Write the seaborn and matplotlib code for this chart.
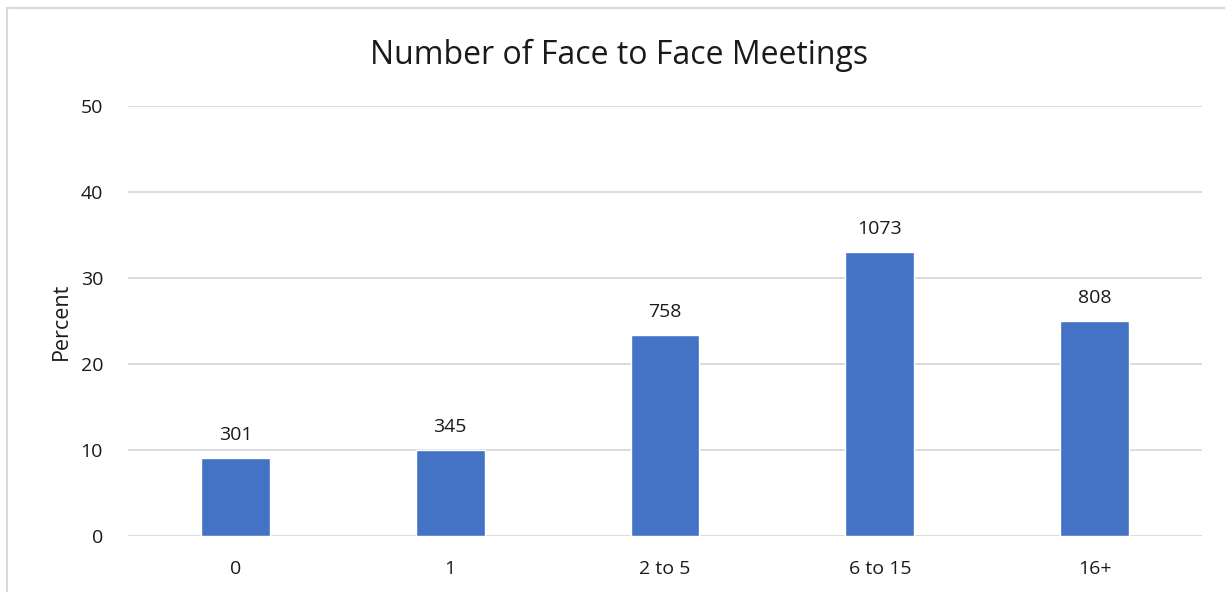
import matplotlib
matplotlib.use("Agg")
import pandas as pd
import seaborn as sns
import matplotlib.pyplot as plt
from matplotlib.patches import Rectangle

# data
categories = ["0", "1", "2 to 5", "6 to 15", "16+"]
percent = [9.1, 10.0, 23.4, 33.0, 25.0]
counts = [301, 345, 758, 1073, 808]

df = pd.DataFrame({"meetings": categories, "percent": percent})

sns.set_theme(style="white")
plt.rcParams["font.family"] = ["Open Sans", "DejaVu Sans"]

fig = plt.figure(figsize=(12.25, 5.92), dpi=100)
ax = fig.add_axes([128 / 1225, 1 - 536 / 592, 1074 / 1225, 430 / 592])

sns.barplot(data=df, x="meetings", y="percent", color="#4472C4", width=0.32,
            saturation=1, ax=ax, zorder=3)

for i, (p, n) in enumerate(zip(percent, counts)):
    ax.annotate(str(n), (i, p), xytext=(0, 10), textcoords="offset points",
                ha="center", va="bottom", fontsize=14, color="#1a1a1a")

ax.set_ylim(0, 50)
ax.set_yticks(range(0, 51, 10))
ax.yaxis.grid(True, color="#d9d9d9", linewidth=1.3, zorder=0)
ax.set_xlim(-0.5, 4.5)
for s in ax.spines.values():
    s.set_visible(False)
ax.tick_params(axis="both", length=0, labelsize=14, colors="#1a1a1a")
ax.tick_params(axis="x", pad=17)
ax.tick_params(axis="y", pad=18)
ax.set_xlabel("")
ax.set_ylabel("Percent", fontsize=15.5, color="#1a1a1a", labelpad=6)

# title is centred on the whole chart, not the plot area
fig.text(619 / 1225, 1 - 55 / 592, "Number of Face to Face Meetings",
         ha="center", va="center", fontsize=23, color="#1a1a1a")

# outer chart frame
fig.patches.append(Rectangle((7 / 1225, -0.1), 1.2, 1 - 8 / 592 + 0.1,
                             transform=fig.transFigure, fill=False,
                             edgecolor="#d9d9d9", linewidth=1.5))

fig.savefig("out.png", dpi=100)
